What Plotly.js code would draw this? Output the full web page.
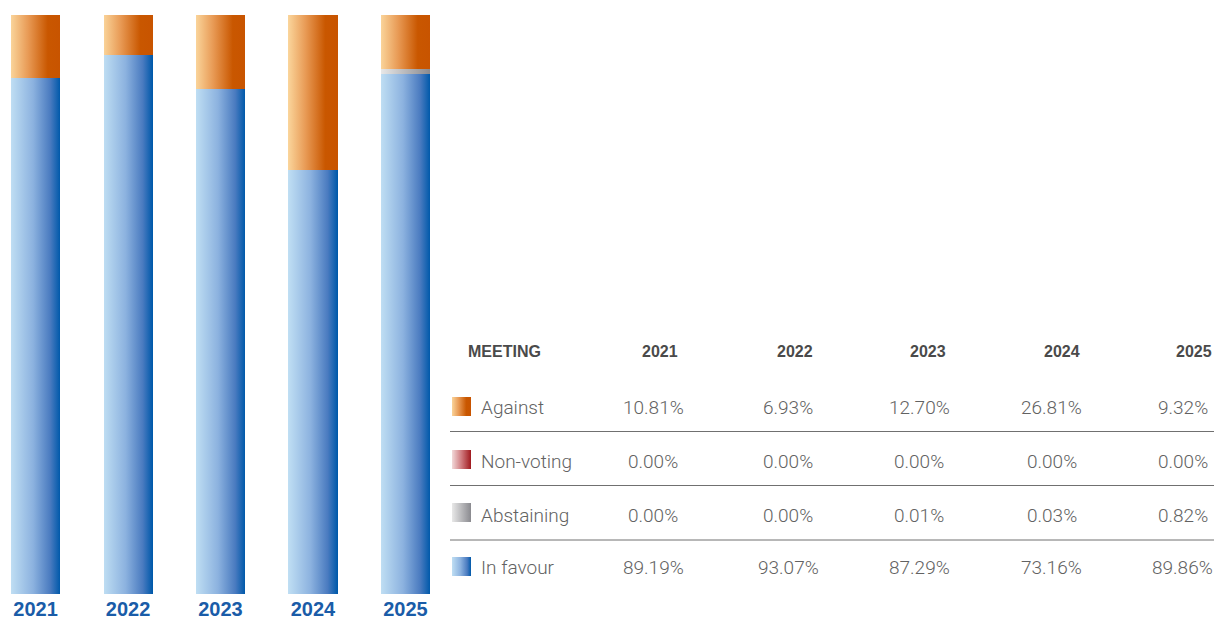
<!DOCTYPE html>
<html>
<head>
<meta charset="utf-8">
<script src="https://cdn.plot.ly/plotly-3.0.1.min.js"></script>
<style>
html,body{margin:0;padding:0;background:#fff;}
#chart{width:1214px;height:619px;}
</style>
</head>
<body>
<div id="chart"></div>
<script>
// ---- data ----
const years = ["2021", "2022", "2023", "2024", "2025"];
const seriesNames = ["Against", "Non-voting", "Abstaining", "In favour"];
const against = [10.81, 6.93, 12.70, 26.81, 9.32];
const nonVoting = [0.00, 0.00, 0.00, 0.00, 0.00];
const abstaining = [0.00, 0.00, 0.01, 0.03, 0.82];
const inFavour = [89.19, 93.07, 87.29, 73.16, 89.86];
const tableHeader = "MEETING";

// ---- styling ----
const W = 1214, H = 619, MT = 15, MB = 25;
const px = x => x / W;
const py = y => (H - MB - y) / (H - MT - MB);

const grads = {
  against: [[0, "#fad49a"], [0.35, "#e89a55"], [0.75, "#c95700"], [1, "#c85400"]],
  nonvoting: [[0, "#f2d9d9"], [0.5, "#cf7a7e"], [1, "#a0191e"]],
  abstaining: [[0, "#e8e8e8"], [1, "#8a8a8f"]],
  favour: [[0, "#bfdef3"], [0.45, "#8cb2df"], [0.8, "#4a7bc0"], [1, "#0059aa"]]
};
const gradKeys = ["favour", "abstaining", "nonvoting", "against"]; // trace order (bottom to top)

const traces = [
  {name: seriesNames[3], y: inFavour, color: "#6a97d0"},
  {name: seriesNames[2], y: abstaining, color: "#c8c8c8"},
  {name: seriesNames[1], y: nonVoting, color: "#b94448"},
  {name: seriesNames[0], y: against, color: "#e08a46"}
].map(t => ({
  type: "bar", x: years, y: t.y, name: t.name,
  marker: {color: t.color, line: {width: 0}},
  hoverinfo: "skip"
}));

const valueFont = {family: "Roboto, 'Liberation Sans', sans-serif", size: 19, color: "#626262", weight: 300};
const headFont = {family: "'Liberation Sans', Arial, sans-serif", size: 16, color: "#4a4a4a", weight: "bold"};

const colCenters = [653, 788, 919, 1051.5, 1182.5];
const colRights = [680, 815, 948, 1082, 1214];
const rowY = [407.5, 461.5, 515, 567];
const squareY = [406.5, 459.5, 512.5, 566.5];
const lineY = [431.5, 485.5, 540];
const rowData = [against, nonVoting, abstaining, inFavour];
const rowKeys = ["against", "nonvoting", "abstaining", "favour"];

const annotations = [];
annotations.push({xref: "paper", yref: "paper", x: px(466), y: py(351), xanchor: "left", yanchor: "middle",
  text: tableHeader, showarrow: false, font: headFont});
years.forEach((yr, i) => annotations.push({xref: "paper", yref: "paper", x: px(colRights[i]), y: py(351),
  xanchor: "right", yanchor: "middle", text: yr, showarrow: false, font: headFont}));
seriesNames.forEach((nm, r) => {
  annotations.push({xref: "paper", yref: "paper", x: px(479), y: py(rowY[r]), xanchor: "left", yanchor: "middle",
    text: nm, showarrow: false, font: valueFont});
  rowData[r].forEach((v, i) => annotations.push({xref: "paper", yref: "paper", x: px(colCenters[i]), y: py(rowY[r]),
    xanchor: "center", yanchor: "middle", text: v.toFixed(2) + "%", showarrow: false, font: valueFont}));
});

const shapes = [];
rowKeys.forEach((k, r) => shapes.push({type: "rect", xref: "paper", yref: "paper",
  x0: px(452), x1: px(471), y0: py(squareY[r] + 9.5), y1: py(squareY[r] - 9.5),
  line: {width: 0}, fillcolor: "#888", layer: "above"}));
lineY.forEach(ly => shapes.push({type: "line", xref: "paper", yref: "paper",
  x0: px(450), x1: px(1214), y0: py(ly), y1: py(ly), line: {color: "#707070", width: 1}, layer: "above"}));

const layout = {
  width: W, height: H,
  margin: {l: 0, r: 0, t: MT, b: MB, pad: 0},
  paper_bgcolor: "#ffffff", plot_bgcolor: "#ffffff",
  barmode: "stack", bargap: 0.47,
  showlegend: false,
  xaxis: {
    type: "category", domain: [0, px(452)], range: [-0.384, 4.503],
    showgrid: false, zeroline: false, showline: false, ticks: "", automargin: false,
    ticklabelstandoff: 1,
    tickfont: {family: "'Liberation Sans', Arial, sans-serif", size: 20, color: "#1a5ca8", weight: "bold"}
  },
  yaxis: {range: [0, 100], visible: false, showgrid: false, zeroline: false, fixedrange: true},
  annotations: annotations,
  shapes: shapes
};

const gd = document.getElementById("chart");
Plotly.newPlot(gd, traces, layout, {staticPlot: true, displayModeBar: false}).then(() => {
  const NS = "http://www.w3.org/2000/svg";
  const svg = gd.querySelector(".main-svg");
  let defs = svg.querySelector("defs");
  if (!defs) { defs = document.createElementNS(NS, "defs"); svg.insertBefore(defs, svg.firstChild); }
  Object.keys(grads).forEach(k => {
    const lg = document.createElementNS(NS, "linearGradient");
    lg.setAttribute("id", "grad-" + k);
    lg.setAttribute("x1", "0"); lg.setAttribute("y1", "0");
    lg.setAttribute("x2", "1"); lg.setAttribute("y2", "0");
    grads[k].forEach(([o, c]) => {
      const s = document.createElementNS(NS, "stop");
      s.setAttribute("offset", o); s.setAttribute("stop-color", c);
      lg.appendChild(s);
    });
    defs.appendChild(lg);
  });
  gd.querySelectorAll(".barlayer .trace").forEach((tg, i) => {
    tg.querySelectorAll("path").forEach(p => { p.style.fill = "url(#grad-" + gradKeys[i] + ")"; });
  });
  gd.querySelectorAll(".shapelayer path").forEach(p => {
    const idx = +p.getAttribute("data-index");
    if (idx < rowKeys.length) p.style.fill = "url(#grad-" + rowKeys[idx] + ")";
  });
});
</script>
</body>
</html>
